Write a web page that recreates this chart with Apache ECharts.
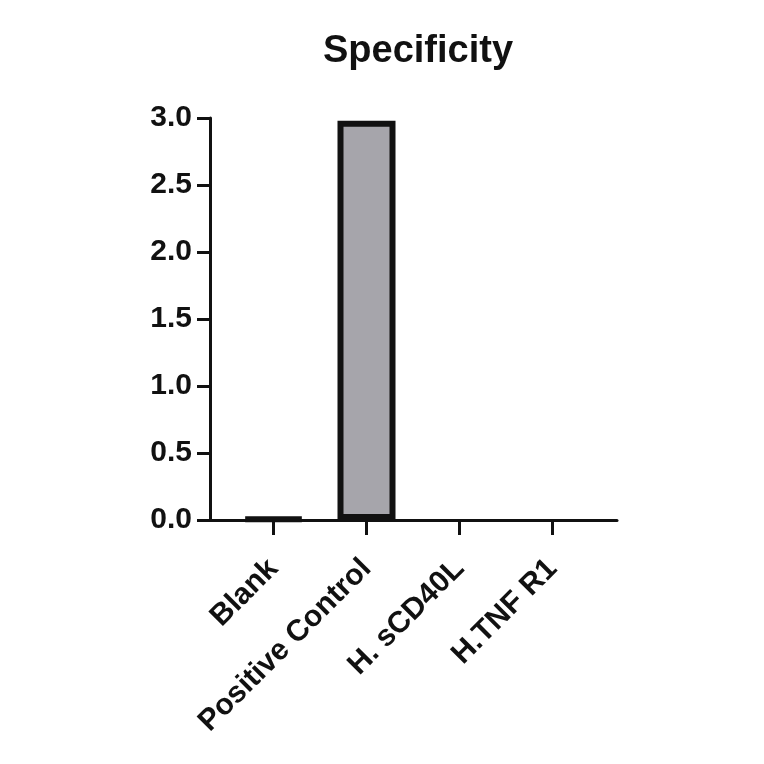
<!DOCTYPE html>
<html>
<head>
<meta charset="utf-8">
<script src="https://cdn.jsdelivr.net/npm/echarts@6/dist/echarts.min.js"></script>
<style>
html,body{margin:0;padding:0;background:#fff;}
#chart{width:764px;height:764px;}
</style>
</head>
<body>
<div id="chart"></div>
<script>
var categories = ['Blank', 'Positive Control', 'H. sCD40L', 'H.TNF R1'];
var values = [0.01, 2.98, 0, 0];
var yTicks = ['0.0', '0.5', '1.0', '1.5', '2.0', '2.5', '3.0'];

var FONT = '"Liberation Sans", Arial, sans-serif';
var chart = echarts.init(document.getElementById('chart'));

var barData = values.map(function (v) {
  return v === 0 ? { value: v, itemStyle: { borderWidth: 0 } } : { value: v };
});

chart.setOption({
  animation: false,
  backgroundColor: '#ffffff',
  title: {
    text: 'Specificity',
    left: 413,
    top: 28,
    textAlign: 'center',
    textStyle: { fontFamily: FONT, fontWeight: 'bold', fontSize: 38, color: '#111' }
  },
  grid: [
    { left: 227, right: 165, top: 118, bottom: 244 },
    { left: 210, right: 147, top: 118, bottom: 244 }
  ],
  xAxis: [
    {
      type: 'category',
      gridIndex: 0,
      data: categories,
      boundaryGap: true,
      axisLine: { show: false },
      axisTick: { show: true, alignWithLabel: true, length: 15, lineStyle: { color: '#111', width: 3 } },
      axisLabel: {
        rotate: 45, margin: 44, interval: 0,
        padding: [20, 0, 0, 0],
        fontFamily: FONT, fontWeight: 'bold', fontSize: 30, color: '#111'
      },
      splitLine: { show: false }
    },
    {
      type: 'value',
      gridIndex: 1,
      min: 0, max: 1,
      axisLine: { show: true, onZero: false, lineStyle: { color: '#111', width: 3 } },
      axisTick: { show: false },
      axisLabel: { show: false },
      splitLine: { show: false }
    }
  ],
  yAxis: [
    {
      type: 'value',
      gridIndex: 0,
      min: 0, max: 3, interval: 0.5,
      offset: 17,
      axisLine: { show: true, lineStyle: { color: '#111', width: 3 } },
      axisTick: { show: true, length: 13, lineStyle: { color: '#111', width: 3 } },
      axisLabel: {
        margin: 18,
        fontFamily: FONT, fontWeight: 'bold', fontSize: 30, color: '#111',
        formatter: function (v) { return yTicks[Math.round(v / 0.5)]; }
      },
      splitLine: { show: false }
    },
    {
      type: 'value',
      gridIndex: 1,
      min: 0, max: 1,
      show: false
    }
  ],
  series: [
    {
      type: 'bar',
      xAxisIndex: 0,
      yAxisIndex: 0,
      data: barData,
      barWidth: 58,
      itemStyle: { color: '#a6a5ab', borderColor: '#111', borderWidth: 6 }
    }
  ]
});
</script>
</body>
</html>
